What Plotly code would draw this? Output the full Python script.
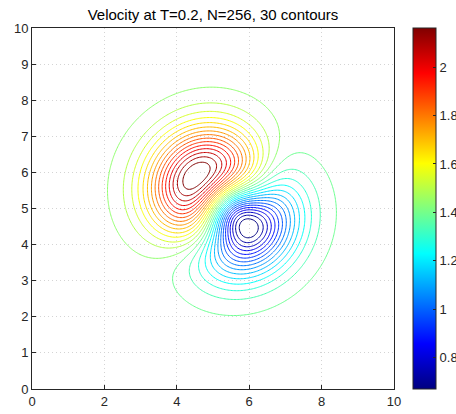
import numpy as np
import plotly.graph_objects as go

# ---- values ----
title_text = "Velocity at T=0.2, N=256, 30 contours"
grid_n = 256
x_range = [0, 10]
y_range = [0, 10]
pos_peak = [4.56, 5.89]     # location of the maximum (red core)
neg_peak = [5.94, 4.50]     # location of the minimum (dark blue core)
v_min = 0.67                # colorbar bottom
v_max = 2.162               # colorbar top
core_width_sq = 2.1
n_contours = 30
axis_ticks = [0, 2, 4, 6, 8, 10]
y_ticks = [0, 1, 2, 3, 4, 5, 6, 7, 8, 9, 10]
cbar_ticks = [0.8, 1.0, 1.2, 1.4, 1.6, 1.8, 2.0]
cbar_labels = ["0.8", "1", "1.2", "1.4", "1.6", "1.8", "2"]

# ---- velocity magnitude: uniform diagonal stream + a vortex between the two peaks ----
x = np.linspace(x_range[0], x_range[1], grid_n)
y = np.linspace(y_range[0], y_range[1], grid_n)
X, Y = np.meshgrid(x, y)
cx = (pos_peak[0] + neg_peak[0]) / 2
cy = (pos_peak[1] + neg_peak[1]) / 2
ax_x, ax_y = neg_peak[0] - pos_peak[0], neg_peak[1] - pos_peak[1]
ax_len = np.hypot(ax_x, ax_y)
ux_dir, uy_dir = -ax_y / ax_len, ax_x / ax_len
if ux_dir < 0:
    ux_dir, uy_dir = -ux_dir, -uy_dir
U0 = (v_max + v_min) / 2
u_peak = (v_max - v_min) / 2
sig2 = core_width_sq
r_peak = np.sqrt(sig2 / 2)
RX, RY = X - cx, Y - cy
r2 = RX ** 2 + RY ** 2
u_over_r = u_peak / r_peak * np.exp(0.5 - r2 / sig2)
VX = U0 * ux_dir + u_over_r * RY
VY = U0 * uy_dir - u_over_r * RX
Z = np.sqrt(VX ** 2 + VY ** 2)
if Z[np.argmin(np.abs(y - pos_peak[1])), np.argmin(np.abs(x - pos_peak[0]))] < U0:
    VX = U0 * ux_dir - u_over_r * RY
    VY = U0 * uy_dir + u_over_r * RX
    Z = np.sqrt(VX ** 2 + VY ** 2)

jet = [[0.0, "rgb(0,0,128)"], [0.125, "rgb(0,0,255)"], [0.375, "rgb(0,255,255)"],
       [0.625, "rgb(255,255,0)"], [0.875, "rgb(255,0,0)"], [1.0, "rgb(128,0,0)"]]

z_lo, z_hi = float(Z.min()), float(Z.max())
step = (z_hi - z_lo) / (n_contours + 1)
font_family = "Liberation Sans, Arial"

fig = go.Figure()
fig.add_trace(go.Contour(
    x=x, y=y, z=Z,
    colorscale=jet, zmin=z_lo, zmax=z_hi,
    contours=dict(coloring="lines", start=z_lo + step, end=z_hi - step * 0.5, size=step),
    line=dict(width=1),
    showscale=False, hoverinfo="skip",
))
fig.add_trace(go.Scatter(
    x=[None], y=[None], mode="markers",
    marker=dict(colorscale=jet, cmin=z_lo, cmax=z_hi, color=[z_lo], showscale=True,
                colorbar=dict(x=(413 - 32) / 362, xanchor="left", y=0.5, yanchor="middle",
                              len=1.0, lenmode="fraction", thickness=23, thicknessmode="pixels",
                              outlinecolor="#262626", outlinewidth=1,
                              tickvals=cbar_ticks, ticktext=cbar_labels,
                              ticks="inside", ticklen=3, tickcolor="#262626",
                              tickfont=dict(family=font_family, size=13, color="#262626"),
                              xpad=0, ypad=0)),
    showlegend=False, hoverinfo="skip",
))

axis_common = dict(
    showline=True, linecolor="#262626", linewidth=1, mirror=True,
    ticks="inside", ticklen=4, tickcolor="#262626",
    showgrid=True, gridcolor="#d4d4d4", griddash="1px,3px", gridwidth=1,
    zeroline=False,
    tickfont=dict(family=font_family, size=13, color="#262626"),
)
fig.update_xaxes(range=x_range, tickvals=axis_ticks, **axis_common)
fig.update_yaxes(range=y_range, tickvals=y_ticks, **axis_common)

fig.update_layout(
    width=456, height=414,
    margin=dict(l=32, r=62, t=28, b=25, autoexpand=False),
    plot_bgcolor="white", paper_bgcolor="white",
    title=dict(text=title_text, x=(32 + 394) / 2 / 456, xanchor="center",
               y=1 - 15 / 414, yanchor="middle",
               font=dict(family=font_family, size=15, color="#000000")),
    showlegend=False,
)
fig.write_html("out.html")
